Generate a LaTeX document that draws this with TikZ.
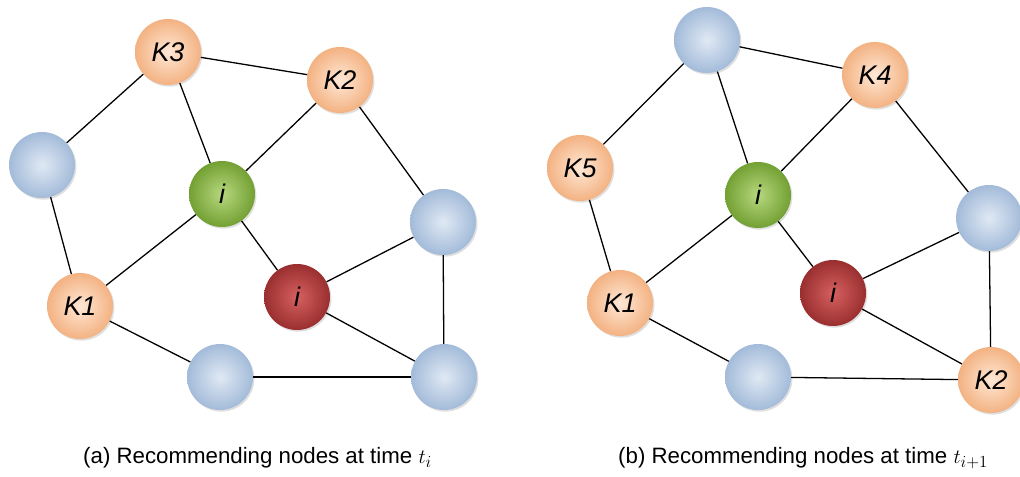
\documentclass[tikz,border=0pt]{standalone}
\usepackage{fontspec}
\setmainfont{Liberation Sans}
\usepackage{tikz}
\usetikzlibrary{shadows}
\definecolor{peach_in}{HTML}{FFE8D6}
\definecolor{peach_out}{HTML}{F3B282}
\definecolor{sky_in}{HTML}{E0E9F4}
\definecolor{sky_out}{HTML}{A3BBD9}
\definecolor{leaf_in}{HTML}{B6D87E}
\definecolor{leaf_out}{HTML}{73A033}
\definecolor{brick_in}{HTML}{D66060}
\definecolor{brick_out}{HTML}{9A2F2F}
\tikzset{
    ballnode/.style = {circle, align=center, inner sep=0pt, minimum size=1.98cm, text centered,
        font=\fontsize{23}{23}\selectfont\itshape,
        drop shadow={shadow xshift=1.2pt, shadow yshift=-1.4pt, opacity=0.25}},
    k_node/.style = {ballnode, inner color=peach_in, outer color=peach_out},
    blue_node/.style = {ballnode, inner color=sky_in, outer color=sky_out},
    green_node/.style = {ballnode, inner color=leaf_in, outer color=leaf_out},
    red_node/.style = {ballnode, inner color=brick_in, outer color=brick_out},
    link/.style = {draw=black, line width=1.1pt},
    caption/.style = {anchor=base west, inner sep=0pt, font=\fontsize{19}{19}\selectfont}
}

\begin{document}
\begin{tikzpicture}[x=0.03cm, y=-0.03cm]
    \useasboundingbox (0,0) rectangle (1020,476);

    % (a) time t_i
    \node [k_node] (a_k3) at (168,52) {K3};
    \node [k_node] (a_k2) at (340,80) {K2};
    \node [blue_node] (a_bl) at (42,165) {};
    \node [green_node] (a_g) at (222,194) {i};
    \node [blue_node] (a_br) at (443,222) {};
    \node [k_node] (a_k1) at (80,306) {K1};
    \node [red_node] (a_r) at (297,297) {i};
    \node [blue_node] (a_bb) at (220,377) {};
    \node [blue_node] (a_bbr) at (444,377) {};

    \draw [link] (a_k3) -- (a_k2);
    \draw [link] (a_k3) -- (a_bl);
    \draw [link] (a_k3) -- (a_g);
    \draw [link] (a_k2) -- (a_g);
    \draw [link] (a_k2) -- (a_br);
    \draw [link] (a_bl) -- (a_k1);
    \draw [link] (a_g) -- (a_k1);
    \draw [link] (a_g) -- (a_r);
    \draw [link] (a_r) -- (a_br);
    \draw [link] (a_r) -- (a_bbr);
    \draw [link] (a_br) -- (a_bbr);
    \draw [link] (a_k1) -- (a_bb);
    \draw [link] (a_bb) -- (a_bbr);

    % (b) time t_{i+1}
    \node [blue_node] (b_bt) at (707,40) {};
    \node [k_node] (b_k4) at (875,75) {K4};
    \node [k_node] (b_k5) at (580,168) {K5};
    \node [green_node] (b_g) at (758,195) {i};
    \node [blue_node] (b_br) at (989,218) {};
    \node [k_node] (b_k1) at (620,303) {K1};
    \node [red_node] (b_r) at (833,293) {i};
    \node [blue_node] (b_bb) at (758,377) {};
    \node [k_node] (b_k2) at (991,380) {K2};

    \draw [link] (b_bt) -- (b_k4);
    \draw [link] (b_bt) -- (b_k5);
    \draw [link] (b_bt) -- (b_g);
    \draw [link] (b_k4) -- (b_g);
    \draw [link] (b_k4) -- (b_br);
    \draw [link] (b_k5) -- (b_k1);
    \draw [link] (b_g) -- (b_k1);
    \draw [link] (b_g) -- (b_r);
    \draw [link] (b_r) -- (b_br);
    \draw [link] (b_r) -- (b_k2);
    \draw [link] (b_br) -- (b_k2);
    \draw [link] (b_k1) -- (b_bb);
    \draw [link] (b_bb) -- (b_k2);

    \node [caption] (cap_a) at (83,463) {(a) Recommending nodes at time $t_i$};
    \node [caption] (cap_b) at (618,463) {(b) Recommending nodes at time $t_{i+1}$};
\end{tikzpicture}
\end{document}
